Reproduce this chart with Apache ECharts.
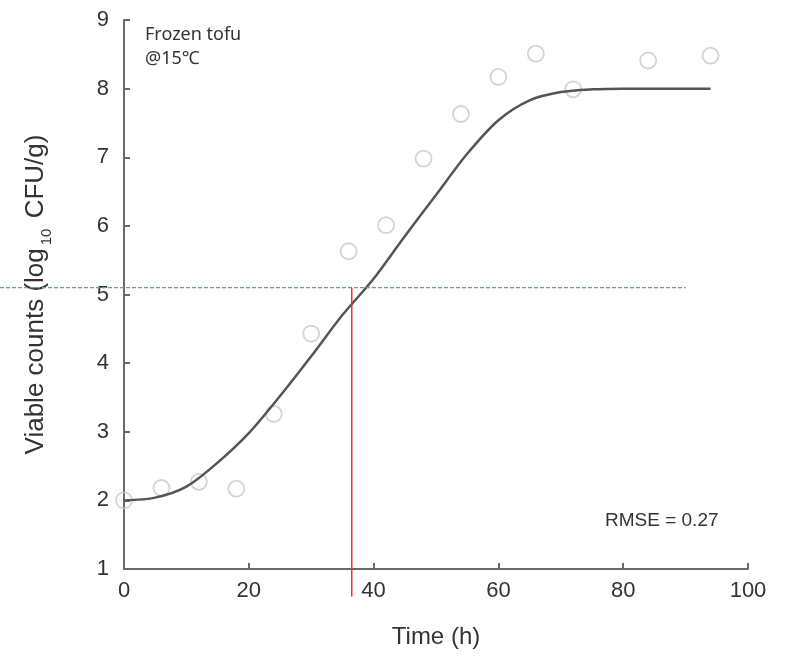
<!DOCTYPE html>
<html>
<head>
<meta charset="utf-8">
<script src="https://cdn.jsdelivr.net/npm/echarts@6/dist/echarts.min.js"></script>
<style>
html,body{margin:0;padding:0;background:#fff;}
#chart{width:786px;height:663px;}
</style>
</head>
<body>
<div id="chart"></div>
<script>
// Observed data (time h, log10 CFU/g)
var timeObs  = [0, 6, 12, 18, 24, 30, 36, 42, 48, 54, 60, 66, 72, 84, 94];
var countObs = [2.00, 2.18, 2.27, 2.17, 3.26, 4.43, 5.63, 6.01, 6.98, 7.63, 8.17, 8.51, 7.99, 8.41, 8.48];

// Fitted curve
var fitTime  = [0, 5, 10, 15, 20, 25, 30, 35, 40, 45, 50, 55, 60, 65, 70, 75, 80, 85, 90, 94];
var fitCount = [2.00, 2.04, 2.20, 2.55, 2.98, 3.52, 4.10, 4.70, 5.23, 5.85, 6.45, 7.05, 7.54, 7.83, 7.95, 7.99, 8.00, 8.00, 8.00, 8.00];

// Axis ticks
var xTicks = [0, 20, 40, 60, 80, 100];
var yTicks = [1, 2, 3, 4, 5, 6, 7, 8, 9];

// Reference guide lines (data units)
var guideY = 5.1;        // horizontal dashed line level
var guideYEndX = 90;     // horizontal dashed line end (time)
var guideX = 36.5;       // vertical red line time
var guideXBottomY = 0.6; // vertical red line lower end

var labels = {
  title1: 'Frozen tofu',
  title2: '@15\u2103',
  rmse: 'RMSE = 0.27',
  xName: 'Time (h)'
};

function pairs(xs, ys) { return xs.map(function (x, i) { return [x, ys[i]]; }); }

var chart = echarts.init(document.getElementById('chart'), null, {renderer: 'canvas'});
var axisColor = '#6a6a6a';
var textColor = '#333';
var option = {
  animation: false,
  backgroundColor: '#fff',
  grid: {left: 124, right: 38, top: 20, bottom: 94, containLabel: false},
  xAxis: {
    type: 'value', min: xTicks[0], max: xTicks[xTicks.length - 1], interval: 20,
    name: labels.xName, nameLocation: 'middle', nameGap: 56,
    nameTextStyle: {fontFamily: 'Liberation Sans', fontSize: 24, color: textColor},
    axisLine: {lineStyle: {color: axisColor, width: 2}},
    axisTick: {inside: true, length: 6, lineStyle: {color: axisColor, width: 2}},
    axisLabel: {fontFamily: 'Liberation Sans', fontSize: 22, color: textColor, margin: 11},
    splitLine: {show: false}
  },
  yAxis: {
    type: 'value', min: yTicks[0], max: yTicks[yTicks.length - 1], interval: 1,
    name: '{a|Viable counts (log}{s|10}{a| CFU/g)}', nameLocation: 'middle', nameGap: 70,
    nameTextStyle: {
      fontFamily: 'Liberation Sans', color: textColor,
      rich: {
        a: {fontFamily: 'Liberation Sans', fontSize: 26, color: textColor},
        s: {fontFamily: 'Liberation Sans', fontSize: 15, color: textColor, padding: [22, 3, 0, 3]}
      }
    },
    axisLine: {lineStyle: {color: axisColor, width: 2}},
    axisTick: {inside: true, length: 6, lineStyle: {color: axisColor, width: 2}},
    axisLabel: {fontFamily: 'Liberation Sans', fontSize: 22, color: textColor, margin: 15},
    splitLine: {show: false}
  },
  series: [
    {
      type: 'scatter', name: 'observed', data: pairs(timeObs, countObs),
      symbol: 'circle', symbolSize: 16, z: 2,
      itemStyle: {color: 'rgba(255,255,255,0)', borderColor: '#c9c9c9', borderWidth: 1.8}
    },
    {
      type: 'line', name: 'fit', data: pairs(fitTime, fitCount),
      smooth: 0.3, showSymbol: false, z: 3,
      lineStyle: {color: '#555', width: 2.5}
    }
  ]
};
chart.setOption(option);

var hStart = chart.convertToPixel({gridIndex: 0}, [guideYEndX, guideY]);
var vTop = chart.convertToPixel({gridIndex: 0}, [guideX, guideY]);
var vBot = chart.convertToPixel({gridIndex: 0}, [guideX, guideXBottomY]);

chart.setOption({
  graphic: [
    {type: 'line', z: 10, shape: {x1: 0, y1: hStart[1], x2: hStart[0], y2: hStart[1]},
     style: {stroke: '#5b9bd5', lineWidth: 1.2, lineDash: [4, 2]}},
    {type: 'line', z: 10, shape: {x1: vTop[0], y1: vTop[1], x2: vBot[0], y2: vBot[1]},
     style: {stroke: '#ff2a2a', lineWidth: 1.5}},
    {type: 'text', left: 145, top: 26, z: 10,
     style: {text: labels.title1, fontFamily: 'Noto Sans, Noto Sans CJK JP', fontSize: 18, fill: '#333'}},
    {type: 'text', left: 145, top: 50, z: 10,
     style: {text: labels.title2, fontFamily: 'Noto Sans, Noto Sans CJK JP', fontSize: 18, fill: '#333'}},
    {type: 'text', left: 605, top: 511, z: 10,
     style: {text: labels.rmse, fontFamily: 'Liberation Sans', fontSize: 19, fill: '#333'}}
  ]
});
</script>
</body>
</html>
